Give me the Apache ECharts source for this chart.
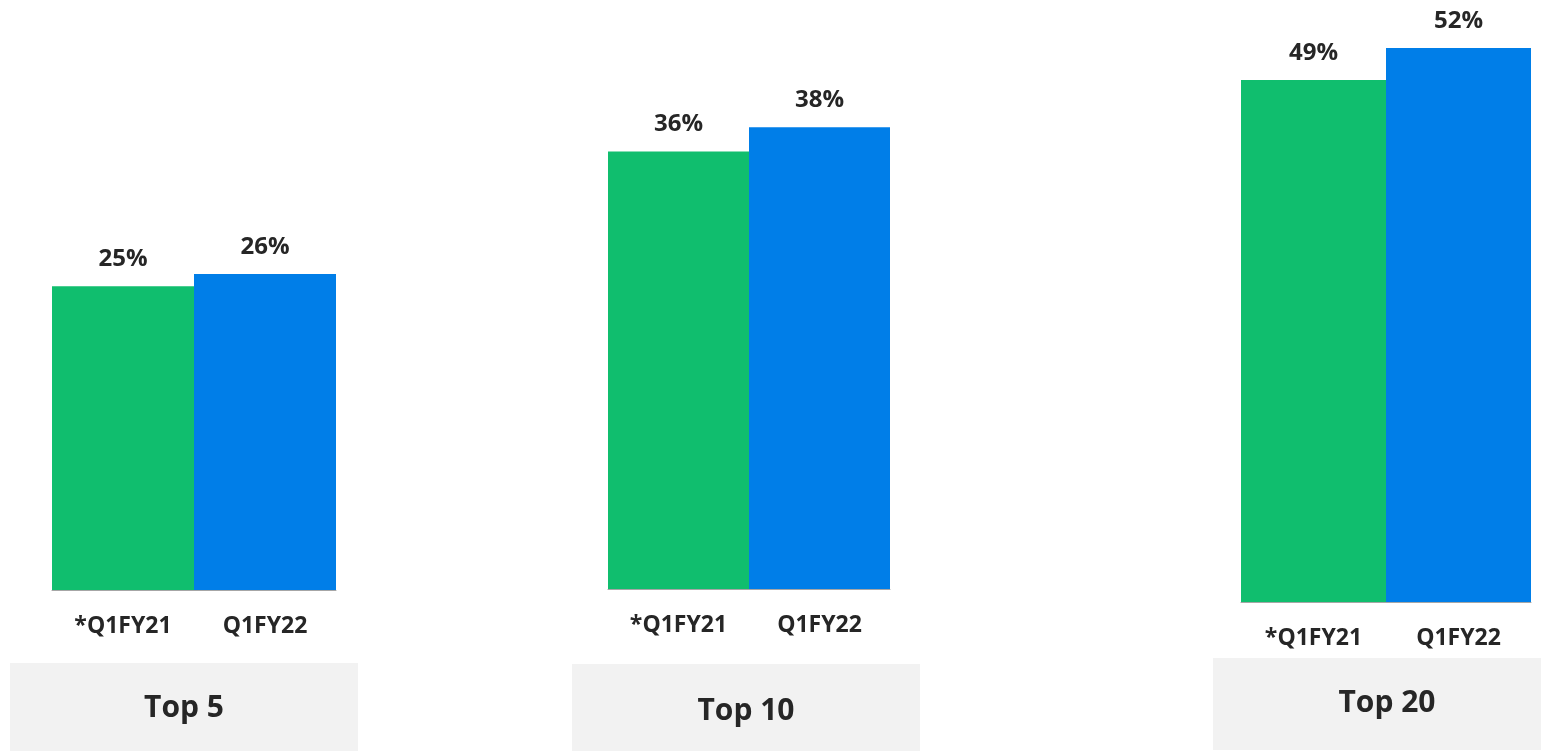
<!DOCTYPE html>
<html>
<head>
<meta charset="utf-8">
<script src="https://cdn.jsdelivr.net/npm/echarts@6/dist/echarts.min.js"></script>
<style>
html,body{margin:0;padding:0;background:#fff;}
#chart{width:1541px;height:751px;}
</style>
</head>
<body>
<div id="chart"></div>
<script>
const categories = ['*Q1FY21', 'Q1FY22'];
const groups = ['Top 5', 'Top 10', 'Top 20'];
const q1fy21 = [25, 36, 49];
const q1fy22 = [26, 38, 52];
const yMax = [40, 40, 55];

const GREEN = '#10be6e';
const BLUE = '#007ee8';
const TEXT = '#262626';
const FONT = '"Open Sans", "Noto Sans", sans-serif';

const grids = [
  { left: 52, width: 284, top: 590 - 486, height: 486 },
  { left: 608, width: 282, top: 589 - 486, height: 486 },
  { left: 1241, width: 290, top: 602 - 586, height: 586 }
];
const boxes = [
  { x: 10, y: 663, w: 348, h: 88, tx: 184, ty: 708 },
  { x: 572, y: 664, w: 348, h: 87, tx: 746, ty: 711 },
  { x: 1213, y: 658, w: 328, h: 92, tx: 1387, ty: 703 }
];

const option = {
  animation: false,
  backgroundColor: '#ffffff',
  grid: grids.map(g => Object.assign({ containLabel: false }, g)),
  xAxis: groups.map((g, i) => ({
    type: 'category',
    gridIndex: i,
    data: categories,
    axisLine: { show: true, lineStyle: { color: '#a6a6a6', width: 1 } },
    axisTick: { show: false },
    axisLabel: { color: TEXT, fontFamily: FONT, fontWeight: 'bold', fontSize: 23, margin: 25 }
  })),
  yAxis: groups.map((g, i) => ({
    type: 'value',
    gridIndex: i,
    min: 0,
    max: yMax[i],
    show: false,
    splitLine: { show: false }
  })),
  series: groups.map((g, i) => ({
    type: 'bar',
    name: g,
    xAxisIndex: i,
    yAxisIndex: i,
    barCategoryGap: 0,
    barWidth: '100%',
    data: [
      { value: q1fy21[i], itemStyle: { color: GREEN } },
      { value: q1fy22[i], itemStyle: { color: BLUE } }
    ],
    label: {
      show: true,
      position: 'top',
      distance: 15,
      formatter: p => p.value + '%',
      color: TEXT,
      fontFamily: FONT,
      fontWeight: 'bold',
      fontSize: 24
    }
  })),
  graphic: boxes.map((b, i) => ({
    type: 'group',
    children: [
      { type: 'rect', shape: { x: b.x, y: b.y, width: b.w, height: b.h }, style: { fill: '#f2f2f2' } },
      { type: 'text', x: b.tx, y: b.ty, style: { text: groups[i], fill: TEXT, font: 'bold 30px ' + FONT, textAlign: 'center', textVerticalAlign: 'middle' } }
    ]
  }))
};

const chart = echarts.init(document.getElementById('chart'), null, { renderer: 'canvas' });
chart.setOption(option);
</script>
</body>
</html>
